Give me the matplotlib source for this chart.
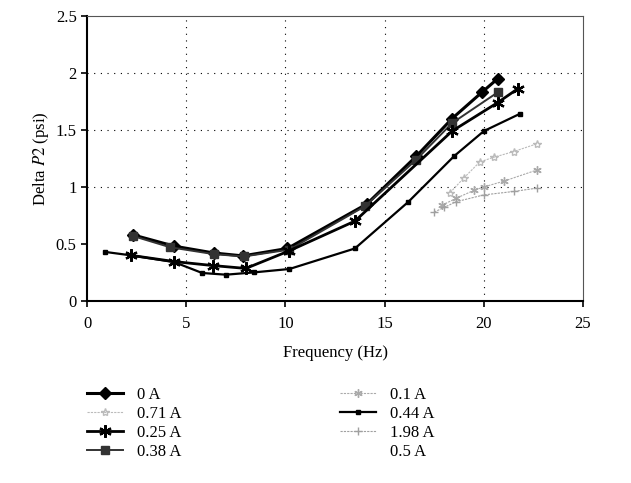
#!/usr/bin/env python3
"""Delta P2 versus excitation frequency for several coil currents."""

import matplotlib.pyplot as plt
from matplotlib.lines import Line2D

plt.rcParams['font.family'] = ['Liberation Serif', 'DejaVu Serif']
plt.rcParams['mathtext.fontset'] = 'stix'

# Measured curves (frequency in Hz, Delta P2 in psi)
freq_0A = [2.3, 4.4, 6.4, 7.85, 10.1, 14.1, 16.6, 18.4, 19.9, 20.7]
dp_0A = [0.58, 0.48, 0.42, 0.395, 0.46, 0.85, 1.27, 1.60, 1.83, 1.95]

freq_038A = [2.3, 4.2, 6.4, 7.9, 10.2, 14.0, 16.6, 18.4, 20.7]
dp_038A = [0.57, 0.47, 0.41, 0.39, 0.45, 0.83, 1.24, 1.56, 1.83]

freq_025A = [2.2, 4.4, 6.35, 8.0, 10.2, 13.5, 18.4, 20.7, 21.7]
dp_025A = [0.40, 0.345, 0.31, 0.285, 0.44, 0.70, 1.49, 1.74, 1.86]

freq_044A = [0.9, 2.2, 4.4, 5.8, 7.0, 8.4, 10.2, 13.5, 16.2, 18.5, 20.0, 21.8]
dp_044A = [0.43, 0.40, 0.34, 0.245, 0.23, 0.25, 0.28, 0.46, 0.87, 1.27, 1.49, 1.64]

freq_071A = [18.3, 19.0, 19.8, 20.5, 21.5, 22.7]
dp_071A = [0.95, 1.08, 1.22, 1.26, 1.31, 1.38]

freq_01A = [17.9, 18.6, 19.5, 20.0, 21.0, 22.7]
dp_01A = [0.84, 0.90, 0.97, 1.00, 1.05, 1.15]

freq_198A = [17.5, 18.0, 18.6, 20.0, 21.5, 22.7]
dp_198A = [0.78, 0.82, 0.87, 0.93, 0.96, 0.99]

fig = plt.figure(figsize=(6.31, 4.83), dpi=100)
ax = fig.add_axes([0.138, 0.377, 0.786, 0.590])

l_0 = ax.plot(freq_0A, dp_0A, color='black', lw=2.2, marker='D', ms=6,
              label='0 A')[0]
l_038 = ax.plot(freq_038A, dp_038A, color='#333333', lw=1.4, marker='s', ms=6,
                label='0.38 A')[0]
l_025 = ax.plot(freq_025A, dp_025A, color='black', lw=2.0, marker=(6, 2, 0),
                ms=9, mew=1.6, label='0.25 A')[0]
l_044 = ax.plot(freq_044A, dp_044A, color='black', lw=1.6, marker='s', ms=3.5,
                label='0.44 A')[0]
l_071 = ax.plot(freq_071A, dp_071A, color='#bbbbbb', lw=0.8, ls=(0, (2, 1)),
                marker='*', ms=6, mfc='none', label='0.71 A')[0]
l_01 = ax.plot(freq_01A, dp_01A, color='#aaaaaa', lw=0.8, ls=(0, (2, 1)),
               marker=(6, 2, 0), ms=6, label='0.1 A')[0]
l_198 = ax.plot(freq_198A, dp_198A, color='#a0a0a0', lw=0.8, ls=(0, (2, 1)),
                marker='+', ms=6, label='1.98 A')[0]
l_05 = Line2D([], [], color='none', label='0.5 A')

ax.set_xlim(0, 25)
ax.set_ylim(0, 2.5)
ax.set_xticks([0, 5, 10, 15, 20, 25])
ax.set_yticks([0, 0.5, 1, 1.5, 2, 2.5])
ax.set_yticklabels(['0', '0.5', '1', '1.5', '2', '2.5'])
ax.tick_params(direction='out', length=4, width=1.2, labelsize=12, colors='black')
ax.tick_params(axis='x', pad=7)

# dotted reference lines
for xv in [5, 10, 15, 20]:
    ax.axvline(xv, color='black', lw=0.8, ls=(0, (1, 5)), zorder=0)
for yv in [1, 1.5, 2]:
    ax.axhline(yv, color='black', lw=0.8, ls=(0, (1, 5)), zorder=0)

for side in ['left', 'bottom']:
    ax.spines[side].set_linewidth(1.5)
for side in ['top', 'right']:
    ax.spines[side].set_linewidth(0.8)
    ax.spines[side].set_color('#555555')

ax.set_xlabel('Frequency (Hz)', fontsize=12, labelpad=9)
ax.set_ylabel('Delta $P2$ (psi)', fontsize=12, labelpad=3)

handles = [l_0, l_071, l_025, l_038, l_01, l_044, l_198, l_05]
fig.legend(handles=handles, labels=[h.get_label() for h in handles], ncol=2,
           loc='upper left', bbox_to_anchor=(0.127, 0.213), frameon=False,
           fontsize=12, handlelength=2.2, handletextpad=0.8, columnspacing=9.5,
           labelspacing=0.18, borderaxespad=0)

fig.savefig('out.png', dpi=100, facecolor='white')
